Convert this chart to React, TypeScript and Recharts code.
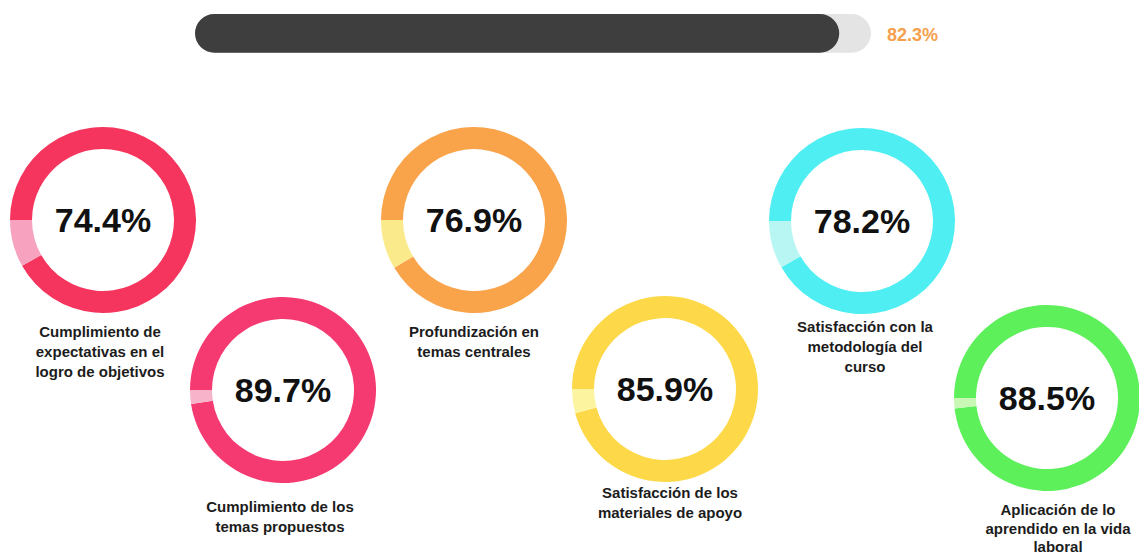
import React from 'react';
import { PieChart, Pie, Cell, BarChart, Bar, XAxis, YAxis } from 'recharts';

// top progress bar
const overallLabel = '82.3%';
const overallFill = 95.3; // visible share of the track that is dark

// donuts
const labels = [
    ['Cumplimiento de', 'expectativas en el', 'logro de objetivos'],
    ['Cumplimiento de los', 'temas propuestos'],
    ['Profundización en', 'temas centrales'],
    ['Satisfacción de los', 'materiales de apoyo'],
    ['Satisfacción con la', 'metodología del', 'curso'],
    ['Aplicación de lo', 'aprendido en la vida', 'laboral'],
];
const percentLabels = ['74.4%', '89.7%', '76.9%', '85.9%', '78.2%', '88.5%'];
const ringGap = [8.2, 2.4, 8.6, 4.2, 8.3, 1.8]; // light segment
const mainColors = ['#F5355E', '#F53A72', '#F9A34B', '#FDD848', '#4FEEF3', '#5DF05B'];
const lightColors = ['#F7A3C0', '#F7B3C9', '#FBEA8C', '#FDF4A0', '#B8F6F3', '#C9F8B6'];

const centers = [
    [103, 220], [283, 390], [474, 220], [665, 389], [862, 221], [1047, 398],
];
const labelPos = [
    [100, 322], [280, 497], [474, 322], [670, 483], [865, 317], [1058, 501],
];

const FONT = '"Liberation Sans", Arial, sans-serif';

export default function App() {
    const barData = [{ name: 'total', value: overallFill }];
    return (
        <div style={{ position: 'absolute', left: 0, top: 0, width: 1139, height: 555, background: '#fff', overflow: 'hidden', fontFamily: FONT }}>
            <div style={{ position: 'absolute', left: 195, top: 12 }}>
                <BarChart width={676} height={43} data={barData} layout="vertical" margin={{ top: 0, right: 0, left: 0, bottom: 0 }}>
                    <XAxis type="number" domain={[0, 100]} hide />
                    <YAxis type="category" dataKey="name" hide />
                    <Bar
                        dataKey="value"
                        fill="#3e3e3e"
                        barSize={43}
                        radius={21.5}
                        background={{ fill: '#e4e4e4', radius: 21.5 }}
                        isAnimationActive={false}
                    />
                </BarChart>
            </div>
            <div style={{ position: 'absolute', left: 887, top: 25, fontSize: 18, fontWeight: 'bold', color: '#F4A04C' }}>
                {overallLabel}
            </div>

            <div style={{ position: 'absolute', left: 0, top: 0 }}>
                <PieChart width={1139} height={555} margin={{ top: 0, right: 0, left: 0, bottom: 0 }}>
                    {percentLabels.map((p, i) => (
                        <Pie
                            key={p}
                            data={[{ name: 'fill', value: 100 - ringGap[i] }, { name: 'gap', value: ringGap[i] }]}
                            dataKey="value"
                            cx={centers[i][0]}
                            cy={centers[i][1]}
                            innerRadius={71}
                            outerRadius={93}
                            startAngle={180}
                            endAngle={-180}
                            stroke="none"
                            isAnimationActive={false}
                        >
                            <Cell fill={mainColors[i]} />
                            <Cell fill={lightColors[i]} />
                        </Pie>
                    ))}
                </PieChart>
            </div>

            {percentLabels.map((p, i) => (
                <div
                    key={p}
                    style={{
                        position: 'absolute',
                        left: centers[i][0] - 70,
                        top: centers[i][1] - 20,
                        width: 140,
                        height: 40,
                        lineHeight: '40px',
                        textAlign: 'center',
                        fontSize: 34,
                        fontWeight: 'bold',
                        color: '#111',
                    }}
                >
                    {p}
                </div>
            ))}

            {labels.map((lines, i) => (
                <div
                    key={i}
                    style={{
                        position: 'absolute',
                        left: labelPos[i][0] - 100,
                        top: labelPos[i][1],
                        width: 200,
                        textAlign: 'center',
                        fontSize: 15,
                        lineHeight: i === 5 ? '18.5px' : '20px',
                        fontWeight: 'bold',
                        color: '#1c1c1c',
                    }}
                >
                    {lines.map((l) => (
                        <div key={l}>{l}</div>
                    ))}
                </div>
            ))}
        </div>
    );
}
